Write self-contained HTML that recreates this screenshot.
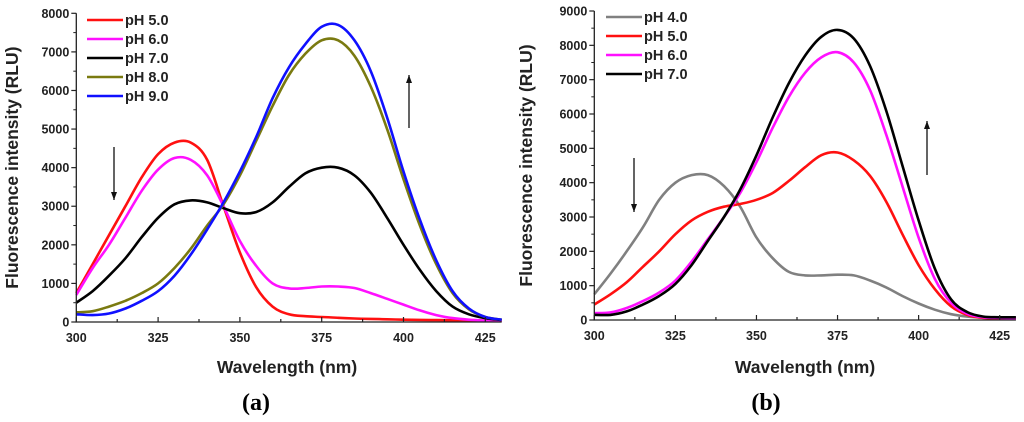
<!DOCTYPE html>
<html><head><meta charset="utf-8"><style>
html,body{margin:0;padding:0;background:#fff;}
svg{display:block;font-family:"Liberation Sans",Arial,sans-serif;}
.tk{font-size:12.5px;font-weight:bold;fill:#222;}
.ttl{font-size:17.5px;font-weight:bold;fill:#222;}
.lg{font-size:14.5px;font-weight:bold;fill:#222;}
.pl{font-family:"Liberation Serif",serif;font-size:24px;font-weight:bold;fill:#000;}
</style></head><body>
<svg id="fig" width="1024" height="422"></svg>
<script>
const wavelengths=[300,305,310,315,320,325,330,335,340,345,350,355,360,365,370,375,380,385,390,395,400,405,410,415,420,425,430];
const xTicks=[300,325,350,375,400,425];
const yTicksA=[0,1000,2000,3000,4000,5000,6000,7000,8000];
const yTicksB=[0,1000,2000,3000,4000,5000,6000,7000,8000,9000];
const a_pH5=[750,1500,2250,3000,3750,4350,4650,4650,4200,3000,1800,900,400,200,150,130,110,90,80,70,60,55,50,45,40,35,30];
const a_pH6=[700,1400,2000,2700,3400,3950,4250,4200,3800,3000,2100,1450,1000,870,880,920,920,880,750,600,450,300,180,100,60,40,30];
const a_pH7=[500,800,1200,1650,2200,2700,3050,3150,3100,2950,2820,2850,3100,3500,3850,4000,4000,3800,3350,2700,2000,1350,800,400,200,100,50];
const a_pH8=[250,280,400,550,750,1000,1400,1900,2500,3050,3800,4700,5600,6400,6950,7300,7300,6900,6100,5000,3700,2500,1500,750,330,130,60];
const a_pH9=[200,180,220,350,550,800,1200,1750,2400,3100,3900,4800,5800,6600,7200,7650,7700,7300,6500,5300,3900,2650,1600,800,350,130,60];
const b_pH4=[750,1350,2000,2700,3500,4000,4220,4220,3900,3300,2400,1800,1400,1300,1300,1320,1300,1150,950,700,480,300,170,100,70,60,50];
const b_pH5=[450,750,1100,1550,2000,2500,2900,3150,3300,3380,3500,3700,4050,4450,4800,4880,4650,4200,3450,2500,1600,900,400,150,60,50,50];
const b_pH6=[200,220,350,550,800,1150,1700,2350,3000,3700,4600,5600,6500,7200,7650,7800,7500,6700,5400,3900,2400,1200,500,180,80,60,50];
const b_pH7=[150,150,250,450,700,1050,1600,2300,3000,3800,4800,5900,6900,7700,8250,8450,8200,7400,6100,4500,2900,1500,600,230,100,80,80];

const NS="http://www.w3.org/2000/svg";
const svg=document.getElementById('fig');
function mk(tag,attrs,parent){const e=document.createElementNS(NS,tag);for(const k in attrs)e.setAttribute(k,attrs[k]);(parent||svg).appendChild(e);return e;}
function smooth(pts){let d=`M${pts[0][0]},${pts[0][1]}`;for(let i=0;i<pts.length-1;i++){const p0=pts[Math.max(0,i-1)],p1=pts[i],p2=pts[i+1],p3=pts[Math.min(pts.length-1,i+2)];
const c1=[p1[0]+(p2[0]-p0[0])/6,p1[1]+(p2[1]-p0[1])/6],c2=[p2[0]-(p3[0]-p1[0])/6,p2[1]-(p3[1]-p1[1])/6];
d+=` C${c1[0].toFixed(1)},${c1[1].toFixed(1)} ${c2[0].toFixed(1)},${c2[1].toFixed(1)} ${p2[0].toFixed(1)},${p2[1].toFixed(1)}`;}return d;}

function panel(cfg){
  const g=mk('g',{});
  
  
  const X=v=>cfg.x0+(v-300)*(cfg.x425-cfg.x0)/125;
  const Y=v=>cfg.y0-v*(cfg.y0-cfg.yTop)/cfg.ymax;
  const xr=X(430);
  cfg.series.forEach(s=>{
    const pts=wavelengths.map((w,i)=>[X(w),Y(s.data[i])]);
    const p=mk('path',{d:smooth(pts),fill:'none',stroke:s.color,'stroke-width':2.6,'stroke-linejoin':'round'},g);
    
    
  });
  const ax=mk('path',{d:`M${cfg.x0},${cfg.yTop} V${cfg.y0} H${xr}`,fill:'none',stroke:'#222','stroke-width':1.3},g);
  
  
  cfg.yTicks.forEach(v=>{
    mk('line',{x1:cfg.x0-5,x2:cfg.x0,y1:Y(v),y2:Y(v),stroke:'#222','stroke-width':1.2},g);
    if(v<cfg.ymax) mk('line',{x1:cfg.x0-3,x2:cfg.x0,y1:Y(v+500),y2:Y(v+500),stroke:'#222','stroke-width':1},g);
    const t=mk('text',{x:cfg.x0-7,y:Y(v)+4.5,'text-anchor':'end',class:'tk'},g);t.textContent=v;
    
    
  });
  for(let w=300;w<=430;w+=12.5){
    const major=xTicks.includes(w);
    mk('line',{x1:X(w),x2:X(w),y1:cfg.y0,y2:cfg.y0-(major?5:3),stroke:'#222','stroke-width':1.2},g);
  }
  xTicks.forEach(w=>{
    const t=mk('text',{x:X(w),y:cfg.y0+20,'text-anchor':'middle',class:'tk'},g);t.textContent=w;
    
    
  });
  const xt=mk('text',{x:cfg.xTitleX,y:373,'text-anchor':'middle',class:'ttl'},g);xt.textContent='Wavelength (nm)';
  
  
  const yt=mk('text',{x:0,y:0,'text-anchor':'middle',class:'ttl',transform:`translate(${cfg.yTitleX},${(cfg.y0+cfg.yTop)/2}) rotate(-90)`},g);yt.textContent='Fluorescence intensity (RLU)';
  
  
  cfg.series.forEach((s,i)=>{
    const y=cfg.legY+i*19;
    const l=mk('line',{x1:cfg.legX,x2:cfg.legX+36,y1:y,y2:y,stroke:s.color,'stroke-width':2.6},g);
    
    
    const t=mk('text',{x:cfg.legX+38,y:y+5,class:'lg'},g);t.textContent=s.label;
    
    
  });
  cfg.arrows.forEach(a=>{
    const l=mk('line',{x1:a[0],x2:a[0],y1:a[1],y2:a[2],stroke:'#111','stroke-width':1.3},g);
    
    
    const dir=a[2]>a[1]?1:-1;
    mk('path',{d:`M${a[0]-3},${a[2]-dir*8} L${a[0]},${a[2]} L${a[0]+3},${a[2]-dir*8} Z`,fill:'#111'},g);
  });
  const pl=mk('text',{x:cfg.plX,y:410,'text-anchor':'middle',class:'pl'},g);pl.textContent=cfg.plabel;
  
  
}

panel({name:'panel-a',x0:76.3,x425:485.3,y0:322,yTop:13.3,ymax:8000,yTicks:yTicksA,xTitleX:287,yTitleX:18,legX:87,legY:20,plX:256,plabel:'(a)',
  arrows:[[114,147,200],[409,128,75]],
  series:[{label:'pH 5.0',color:'#ff1010',data:a_pH5},{label:'pH 6.0',color:'#ff10ff',data:a_pH6},{label:'pH 7.0',color:'#000000',data:a_pH7},{label:'pH 8.0',color:'#7a7a10',data:a_pH8},{label:'pH 9.0',color:'#1010ff',data:a_pH9}]});
panel({name:'panel-b',x0:594.3,x425:999.7,y0:320,yTop:11,ymax:9000,yTicks:yTicksB,xTitleX:805,yTitleX:532,legX:606,legY:17,plX:766,plabel:'(b)',
  arrows:[[634,158,212],[927,175,121]],
  series:[{label:'pH 4.0',color:'#808080',data:b_pH4},{label:'pH 5.0',color:'#ff1010',data:b_pH5},{label:'pH 6.0',color:'#ff10ff',data:b_pH6},{label:'pH 7.0',color:'#000000',data:b_pH7}]});
</script>
</body></html>
